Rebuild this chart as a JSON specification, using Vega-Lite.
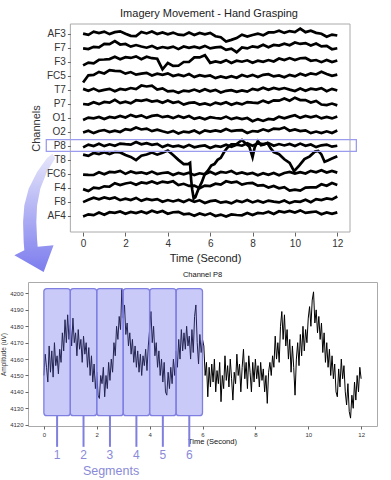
{
  "$schema": "https://vega.github.io/schema/vega-lite/v6.json",
  "background": "white",
  "padding": {"left": 0, "top": 8, "right": 2, "bottom": 2},
  "spacing": -2,
  "config": {"font": "Liberation Sans", "view": {"stroke": null}, "axis": {"labelOverlap": false, "labelFlush": false, "tickCount": 30}},
  "vconcat": [
    {
      "width": 322,
      "height": 208,
      "title": {"text": "Imagery Movement - Hand Grasping", "fontSize": 11, "fontWeight": "normal", "color": "#222", "dx": 20, "offset": 4},
      "layer": [
        {
          "data": {"values": [{}]},
          "mark": {"type": "rect", "filled": false, "stroke": "#aaaaaa", "strokeWidth": 1},
          "encoding": {
            "x": {"datum": -0.6, "type": "quantitative", "scale": {"domain": [-2.6, 12.6], "nice": false, "zero": false},
              "axis": {"values": [0, 2, 4, 6, 8, 10, 12], "format": "d", "tickCount": 30, "title": "Time (Second)", "domain": false, "grid": false, "tickSize": 4, "tickColor": "#666", "labelFontSize": 10, "labelColor": "#333", "labelPadding": 2, "labelFlush": false, "labelOverlap": false, "titleFontSize": 11, "titleFontWeight": "normal", "titleColor": "#222", "titlePadding": 4, "titleX": 177}},
            "x2": {"datum": 12.6},
            "y": {"datum": -0.143, "type": "quantitative", "scale": {"domain": [-0.143, 14.714], "nice": false, "zero": false},
              "axis": {"values": [1, 2, 3, 4, 5, 6, 7, 8, 9, 10, 11, 12, 13, 14], "zindex": 1, "tickCount": 30, "labelExpr": "['','AF4','F8','F4','FC6','T8','P8','O2','O1','P7','T7','FC5','F3','F7','AF3'][datum.value]", "labelOverlap": false, "labelBound": false, "labelFlush": false, "title": "Channels", "offset": -42.4, "domain": false, "grid": false, "tickSize": 3, "tickColor": "#666", "labelFontSize": 10, "labelColor": "#333", "labelPadding": 2, "titleFontSize": 11, "titleFontWeight": "normal", "titleColor": "#333", "titlePadding": 5}},
            "y2": {"datum": 14.714}
          }
        },
        {
          "data": {"values": [
            {"ch": "AF3", "t": [0,0.25,0.5,0.75,1,1.25,1.5,1.75,2,2.25,2.5,2.75,3,3.25,3.5,3.75,4,4.25,4.5,4.75,5,5.25,5.5,5.75,6,6.25,6.5,6.75,7,7.25,7.5,7.75,8,8.25,8.5,8.75,9,9.25,9.5,9.75,10,10.25,10.5,10.75,11,11.25,11.5,11.75,12], "v": [14.03,13.94,14.17,14.06,14.17,13.99,14.13,14.19,14.02,13.87,13.85,14.15,14.04,14.18,14.00,14.11,13.98,14.10,13.95,13.92,14.10,13.93,14.07,13.98,14.08,13.84,13.77,13.46,13.58,13.71,13.95,13.82,13.93,14.03,13.90,14.11,14.11,14.24,14.08,14.21,14.14,14.39,14.13,14.23,14.08,14.02,13.81,13.96,13.89]},
            {"ch": "F7", "t": [0,0.25,0.5,0.75,1,1.25,1.5,1.75,2,2.25,2.5,2.75,3,3.25,3.5,3.75,4,4.25,4.5,4.75,5,5.25,5.5,5.75,6,6.25,6.5,6.75,7,7.25,7.5,7.75,8,8.25,8.5,8.75,9,9.25,9.5,9.75,10,10.25,10.5,10.75,11,11.25,11.5,11.75,12], "v": [12.97,12.92,13.08,13.05,13.30,13.27,13.49,13.25,13.29,13.10,13.21,13.11,13.02,13.15,12.96,13.07,12.99,13.10,12.92,13.11,13.01,13.09,13.00,13.15,12.97,13.04,13.08,12.87,12.95,12.70,13.04,12.97,13.12,13.05,13.23,13.05,13.22,13.17,13.31,13.20,13.39,13.29,13.35,13.18,13.32,13.11,13.15,12.91,12.98]},
            {"ch": "F3", "t": [0,0.25,0.5,0.75,1,1.25,1.5,1.75,2,2.25,2.5,2.75,3,3.25,3.5,3.75,4,4.25,4.5,4.75,5,5.25,5.5,5.75,6,6.25,6.5,6.75,7,7.25,7.5,7.75,8,8.25,8.5,8.75,9,9.25,9.5,9.75,10,10.25,10.5,10.75,11,11.25,11.5,11.75,12], "v": [11.76,11.96,11.91,12.16,12.18,12.21,12.37,12.20,12.34,12.29,12.40,12.20,12.38,12.27,12.23,11.48,11.93,11.72,11.73,12.00,12.00,12.33,12.33,12.49,11.94,12.04,11.96,12.13,11.93,12.09,12.02,12.12,11.95,12.09,12.01,12.14,12.04,12.25,12.14,12.28,12.14,12.27,12.29,12.09,12.14,11.99,12.14,12.00,12.11]},
            {"ch": "FC5", "t": [0,0.25,0.5,0.75,1,1.25,1.5,1.75,2,2.25,2.5,2.75,3,3.25,3.5,3.75,4,4.25,4.5,4.75,5,5.25,5.5,5.75,6,6.25,6.5,6.75,7,7.25,7.5,7.75,8,8.25,8.5,8.75,9,9.25,9.5,9.75,10,10.25,10.5,10.75,11,11.25,11.5,11.75,12], "v": [10.54,11.05,11.08,11.29,11.18,11.42,11.36,11.35,11.17,11.28,11.10,11.17,11.22,11.03,11.17,11.08,11.19,11.00,11.10,10.99,11.14,10.92,11.06,10.97,11.04,10.85,10.97,10.87,10.98,10.87,11.07,10.95,11.08,10.92,11.08,11.13,10.97,11.04,10.91,11.08,10.97,11.16,11.03,11.19,11.11,11.30,11.15,11.01,11.10]},
            {"ch": "T7", "t": [0,0.25,0.5,0.75,1,1.25,1.5,1.75,2,2.25,2.5,2.75,3,3.25,3.5,3.75,4,4.25,4.5,4.75,5,5.25,5.5,5.75,6,6.25,6.5,6.75,7,7.25,7.5,7.75,8,8.25,8.5,8.75,9,9.25,9.5,9.75,10,10.25,10.5,10.75,11,11.25,11.5,11.75,12], "v": [10.08,9.95,10.10,9.92,10.01,10.08,9.91,10.07,10.01,10.14,10.07,10.32,10.25,10.31,10.03,10.12,9.90,9.94,9.80,9.96,9.90,10.03,9.89,10.06,9.91,10.01,9.82,9.94,9.99,9.87,9.97,9.88,10.08,10.00,10.16,10.01,10.15,10.05,10.14,10.03,9.93,10.10,9.94,10.09,10.03,10.13,9.91,10.08,9.96]},
            {"ch": "P7", "t": [0,0.25,0.5,0.75,1,1.25,1.5,1.75,2,2.25,2.5,2.75,3,3.25,3.5,3.75,4,4.25,4.5,4.75,5,5.25,5.5,5.75,6,6.25,6.5,6.75,7,7.25,7.5,7.75,8,8.25,8.5,8.75,9,9.25,9.5,9.75,10,10.25,10.5,10.75,11,11.25,11.5,11.75,12], "v": [9.00,8.96,9.12,8.99,9.15,9.10,9.30,9.06,9.17,9.05,9.27,9.23,9.31,9.17,9.24,9.09,9.25,9.09,9.17,8.96,9.08,9.12,8.96,9.04,8.92,9.10,8.99,9.13,8.95,9.08,8.97,9.14,9.10,9.07,9.24,9.09,9.26,9.24,9.39,9.23,9.45,9.28,9.28,9.11,9.22,8.96,8.92,9.03,8.90]},
            {"ch": "O1", "t": [0,0.25,0.5,0.75,1,1.25,1.5,1.75,2,2.25,2.5,2.75,3,3.25,3.5,3.75,4,4.25,4.5,4.75,5,5.25,5.5,5.75,6,6.25,6.5,6.75,7,7.25,7.5,7.75,8,8.25,8.5,8.75,9,9.25,9.5,9.75,10,10.25,10.5,10.75,11,11.25,11.5,11.75,12], "v": [7.86,8.03,7.97,8.08,7.93,8.08,8.01,8.14,8.03,8.22,8.08,8.19,8.01,8.15,8.21,8.06,8.13,7.99,8.15,8.02,8.14,7.94,8.04,7.91,8.06,8.00,7.95,8.10,7.92,8.02,7.92,8.00,7.77,7.92,7.79,7.93,7.89,8.10,7.98,8.10,8.20,8.01,8.15,8.05,8.15,7.97,8.07,7.97,8.11]},
            {"ch": "O2", "t": [0,0.25,0.5,0.75,1,1.25,1.5,1.75,2,2.25,2.5,2.75,3,3.25,3.5,3.75,4,4.25,4.5,4.75,5,5.25,5.5,5.75,6,6.25,6.5,6.75,7,7.25,7.5,7.75,8,8.25,8.5,8.75,9,9.25,9.5,9.75,10,10.25,10.5,10.75,11,11.25,11.5,11.75,12], "v": [6.96,7.09,6.92,7.07,7.14,7.00,7.10,7.00,7.21,7.14,7.32,7.18,7.24,7.06,7.16,7.05,6.95,7.08,6.89,7.03,6.98,7.11,6.92,7.12,7.03,7.12,7.03,7.21,7.06,7.12,7.14,6.93,7.07,7.03,7.19,7.07,7.24,7.20,7.33,7.09,7.18,7.06,7.12,6.92,7.03,6.92,7.05,6.93,7.10]},
            {"ch": "P8", "t": [0,0.25,0.5,0.75,1,1.25,1.5,1.75,2,2.25,2.5,2.75,3,3.25,3.5,3.75,4,4.25,4.5,4.75,5,5.25,5.5,5.75,6,6.25,6.5,6.75,7,7.25,7.5,7.75,8,8.25,8.5,8.75,9,9.25,9.5,9.75,10,10.25,10.5,10.75,11,11.25,11.5,11.75,12], "v": [5.90,6.10,6.00,6.16,5.99,6.12,6.01,6.17,6.13,6.10,6.28,6.12,6.20,6.08,6.15,5.92,6.07,5.95,6.02,5.91,6.08,5.91,5.99,6.04,5.86,6.00,5.94,6.09,5.95,6.09,6.02,6.20,6.02,6.19,6.13,6.21,6.02,6.14,6.04,6.14,6.00,6.17,6.01,6.11,5.92,6.05,6.10,5.95,6.02]},
            {"ch": "T8", "t": [0,0.25,0.5,0.75,1,1.25,1.5,1.75,2,2.25,2.5,2.75,3,3.25,3.5,3.75,4,4.25,4.5,4.75,4.95,5.05,5.1,5.15,5.22,5.3,5.45,5.6,5.75,5.9,6.05,6.2,6.35,6.5,6.65,6.8,7,7.25,7.5,7.7,7.85,8,8.1,8.25,8.4,8.55,8.7,8.85,9,9.25,9.5,9.75,9.96,10.2,10.45,10.7,10.95,11.1,11.25,11.4,11.55,11.75,12], "v": [5.38,5.29,5.50,5.42,5.56,5.43,5.57,5.54,5.36,5.22,4.99,5.31,5.39,5.53,5.38,5.51,5.68,5.35,5.01,4.71,4.70,4.80,3.6,2.9,2.25,2.35,2.95,3.40,4.01,4.25,4.60,4.71,5.01,5.15,5.55,5.86,6.12,6.14,6.43,6.15,5.94,5.2,5.9,6.35,6.05,6.11,6.21,5.85,5.57,5.41,5.05,4.79,4.2,4.60,5.06,5.26,5.60,5.65,5.40,4.88,4.97,5.10,5.27]},
            {"ch": "FC6", "t": [0,0.25,0.5,0.75,1,1.25,1.5,1.75,2,2.25,2.5,2.75,3,3.25,3.5,3.75,4,4.25,4.5,4.75,5,5.25,5.5,5.75,6,6.25,6.5,6.75,7,7.25,7.5,7.75,8,8.25,8.5,8.75,9,9.25,9.5,9.75,10,10.25,10.5,10.75,11,11.25,11.5,11.75,12], "v": [3.96,3.94,3.93,4.12,3.98,4.15,4.12,4.22,4.01,4.18,4.06,4.12,4.01,4.17,4.00,4.07,4.12,3.93,4.07,3.98,4.09,3.92,4.05,3.98,4.16,3.98,4.15,4.09,4.21,4.01,4.11,3.99,4.07,3.91,4.06,3.94,4.07,3.91,4.07,4.15,4.03,4.13,4.03,4.22,4.12,4.27,4.10,4.22,4.10]},
            {"ch": "F4", "t": [0,0.25,0.5,0.75,1,1.25,1.5,1.75,2,2.25,2.5,2.75,3,3.25,3.5,3.75,4,4.25,4.5,4.75,5,5.25,5.5,5.75,6,6.25,6.5,6.75,7,7.25,7.5,7.75,8,8.25,8.5,8.75,9,9.25,9.5,9.75,10,10.25,10.5,10.75,11,11.25,11.5,11.75,12], "v": [2.92,2.78,3.02,2.97,3.12,3.09,3.34,3.21,3.32,3.39,3.23,3.40,3.33,3.47,3.32,3.46,3.38,3.48,3.21,3.30,3.15,3.17,2.98,3.17,3.14,3.31,3.24,3.48,3.39,3.46,3.24,3.34,3.36,3.17,3.21,3.03,3.15,2.98,3.06,2.82,2.88,2.81,3.03,3.04,3.05,3.27,3.16,3.36,3.22]},
            {"ch": "F8", "t": [0,0.25,0.5,0.75,1,1.25,1.5,1.75,2,2.25,2.5,2.75,3,3.25,3.5,3.75,4,4.25,4.5,4.75,5,5.25,5.5,5.75,6,6.25,6.5,6.75,7,7.25,7.5,7.75,8,8.25,8.5,8.75,9,9.25,9.5,9.75,10,10.25,10.5,10.75,11,11.25,11.5,11.75,12], "v": [1.99,2.16,2.31,2.19,2.32,2.22,2.32,2.13,2.24,2.14,2.29,2.08,2.22,2.13,2.21,2.02,2.14,2.04,2.14,2.00,2.17,2.02,2.12,1.93,2.06,2.11,1.95,2.02,1.90,2.09,1.99,2.14,1.97,2.09,1.96,2.10,2.03,1.97,2.11,1.92,2.05,2.01,2.16,1.99,2.21,2.14,2.25,2.19,2.39]},
            {"ch": "AF4", "t": [0,0.25,0.5,0.75,1,1.25,1.5,1.75,2,2.25,2.5,2.75,3,3.25,3.5,3.75,4,4.25,4.5,4.75,5,5.25,5.5,5.75,6,6.25,6.5,6.75,7,7.25,7.5,7.75,8,8.25,8.5,8.75,9,9.25,9.5,9.75,10,10.25,10.5,10.75,11,11.25,11.5,11.75,12], "v": [0.97,1.12,1.06,1.25,1.09,1.27,1.22,1.32,1.16,1.29,1.21,1.32,1.20,1.38,1.25,1.36,1.16,1.27,1.30,1.12,1.17,1.02,1.18,1.06,1.19,1.00,1.10,0.96,1.11,1.07,1.05,1.22,1.07,1.22,1.18,1.31,1.14,1.34,1.26,1.36,1.25,1.40,1.22,1.28,1.32,1.12,1.25,1.15,1.26]}
          ]},
          "transform": [{"flatten": ["t", "v"]}],
          "mark": {"type": "line", "color": "black", "strokeWidth": 2.7},
          "encoding": {
            "x": {"field": "t", "type": "quantitative", "scale": {"domain": [-2.6, 12.6], "nice": false, "zero": false}},
            "y": {"field": "v", "type": "quantitative", "scale": {"domain": [-0.143, 14.714], "nice": false, "zero": false}},
            "detail": {"field": "ch"}
          }
        },
        {
          "data": {"values": [{}]},
          "mark": {"type": "rect", "filled": false, "stroke": "#9c9cee", "strokeWidth": 1.3},
          "encoding": {
            "x": {"datum": -1.736, "type": "quantitative", "scale": {"domain": [-2.6, 12.6], "nice": false, "zero": false}},
            "x2": {"datum": 12.9},
            "y": {"datum": 5.62, "type": "quantitative", "scale": {"domain": [-0.143, 14.714], "nice": false, "zero": false}},
            "y2": {"datum": 6.45}
          }
        },
        {
          "data": {"values": [{}]},
          "mark": {"type": "point", "shape": "M0.30,-0.97 L0.35,-0.90 L0.21,-0.67 L0.10,-0.39 L0.045,-0.11 L0.033,0.17 L0.045,0.45 L0.055,0.58 L0.32,0.555 L0.155,1 L-0.333,0.722 L-0.167,0.638 L-0.178,0.5 L-0.188,0.167 L-0.167,-0.112 L-0.095,-0.388 L0.045,-0.667 L0.212,-0.9 Z", "size": 14400, "filled": true, "opacity": 1, "strokeWidth": 0,
            "fill": {"gradient": "linear", "x1": 0, "y1": 0, "x2": 0, "y2": 1, "stops": [{"offset": 0, "color": "#e6e6fb"}, {"offset": 1, "color": "#7c7cee"}]}},
          "encoding": {
            "x": {"datum": -2.3, "type": "quantitative", "scale": {"domain": [-2.6, 12.6], "nice": false, "zero": false}},
            "y": {"datum": 1.286, "type": "quantitative", "scale": {"domain": [-0.143, 14.714], "nice": false, "zero": false}}
          }
        }
      ]
    },
    {
      "width": 349,
      "height": 144,
      "view": {"stroke": "#aaaaaa"},
      "title": {"text": "Channel P8", "fontSize": 7.5, "fontWeight": "normal", "color": "#111", "offset": 4},
      "layer": [
        {
          "data": {"values": [{"t": [0,0.05,0.1,0.15,0.2,0.25,0.3,0.35,0.4,0.45,0.5,0.55,0.6,0.65,0.7,0.75,0.8,0.85,0.9,0.95,1,1.05,1.1,1.15,1.2,1.25,1.3,1.35,1.4,1.45,1.5,1.55,1.6,1.65,1.7,1.75,1.8,1.85,1.9,1.95,2,2.05,2.1,2.15,2.2,2.25,2.3,2.35,2.4,2.45,2.5,2.55,2.6,2.65,2.7,2.75,2.8,2.85,2.9,2.95,3,3.05,3.1,3.15,3.2,3.25,3.3,3.35,3.4,3.45,3.5,3.55,3.6,3.65,3.7,3.75,3.8,3.85,3.9,3.95,4,4.05,4.1,4.15,4.2,4.25,4.3,4.35,4.4,4.45,4.5,4.55,4.6,4.65,4.7,4.75,4.8,4.85,4.9,4.95,5,5.05,5.1,5.15,5.2,5.25,5.3,5.35,5.4,5.45,5.5,5.55,5.6,5.65,5.7,5.75,5.8,5.85,5.9,5.95,6,6.05,6.1,6.15,6.2,6.25,6.3,6.35,6.4,6.45,6.5,6.55,6.6,6.65,6.7,6.75,6.8,6.85,6.9,6.95,7,7.05,7.1,7.15,7.2,7.25,7.3,7.35,7.4,7.45,7.5,7.55,7.6,7.65,7.7,7.75,7.8,7.85,7.9,7.95,8,8.05,8.1,8.15,8.2,8.25,8.3,8.35,8.4,8.45,8.5,8.55,8.6,8.65,8.7,8.75,8.8,8.85,8.9,8.95,9,9.05,9.1,9.15,9.2,9.25,9.3,9.35,9.4,9.45,9.5,9.55,9.6,9.65,9.7,9.75,9.8,9.85,9.9,9.95,10,10.05,10.1,10.15,10.2,10.25,10.3,10.35,10.4,10.45,10.5,10.55,10.6,10.65,10.7,10.75,10.8,10.85,10.9,10.95,11,11.05,11.1,11.15,11.2,11.25,11.3,11.35,11.4,11.45,11.5,11.55,11.6,11.65,11.7,11.75,11.8,11.85,11.9,11.95,12],
            "v": [4150,4163,4155,4146,4168,4152,4165,4149,4170,4156,4162,4151,4166,4158,4176,4165,4184,4170,4187,4172,4181,4168,4185,4170,4176,4162,4178,4166,4172,4158,4174,4163,4170,4155,4167,4150,4162,4146,4157,4142,4152,4138,4136,4150,4145,4155,4137,4150,4142,4158,4147,4160,4152,4170,4162,4180,4172,4186,4178,4203,4185,4193,4175,4182,4168,4176,4163,4172,4158,4168,4155,4165,4152,4163,4150,4162,4156,4166,4153,4168,4178,4189,4170,4180,4162,4170,4155,4165,4150,4160,4146,4158,4140,4138,4152,4142,4155,4145,4160,4150,4165,4155,4172,4160,4178,4165,4176,4166,4180,4168,4174,4160,4178,4164,4186,4193,4170,4157,4175,4164,4172,4168,4150,4158,4137,4155,4143,4157,4146,4160,4140,4153,4145,4158,4134,4150,4142,4162,4147,4156,4143,4160,4148,4135,4152,4145,4163,4150,4157,4140,4155,4166,4148,4158,4142,4162,4152,4140,4158,4146,4160,4148,4156,4143,4158,4147,4154,4140,4150,4133,4152,4158,4150,4162,4155,4174,4160,4170,4158,4180,4189,4172,4187,4168,4178,4160,4172,4152,4168,4155,4138,4160,4170,4156,4175,4162,4180,4165,4178,4170,4185,4192,4180,4196,4201,4182,4190,4176,4186,4172,4182,4164,4176,4158,4170,4155,4166,4150,4162,4148,4157,4140,4137,4154,4143,4160,4148,4156,4140,4132,4145,4128,4124,4138,4130,4146,4135,4150,4140,4155,4148]}]},
          "transform": [{"flatten": ["t", "v"]}],
          "mark": {"type": "line", "color": "black", "strokeWidth": 1},
          "encoding": {
            "x": {"field": "t", "type": "quantitative", "scale": {"domain": [-0.6, 12.6], "nice": false, "zero": false},
              "axis": {"values": [0, 2, 4, 6, 8, 10, 12], "format": "d", "tickCount": 30, "title": "Time (Second)", "domain": false, "grid": false, "tickSize": 3, "tickColor": "#666", "labelFontSize": 6, "labelColor": "#333", "labelPadding": 2, "labelFlush": false, "labelOverlap": false, "titleFontSize": 7.5, "titleFontWeight": "normal", "titleColor": "#111", "titlePadding": 0, "titleX": 184}},
            "y": {"field": "v", "type": "quantitative", "scale": {"domain": [4119.2, 4207], "nice": false, "zero": false},
              "axis": {"values": [4120, 4130, 4140, 4150, 4160, 4170, 4180, 4190, 4200], "tickCount": 30, "format": "d", "labelOverlap": false, "labelFlush": false, "title": "Amplitude (uV)", "domain": false, "grid": false, "tickSize": 3, "tickColor": "#666", "labelFontSize": 6, "labelColor": "#333", "labelPadding": 2, "titleFontSize": 6.5, "titleFontWeight": "normal", "titleColor": "#333", "titlePadding": 3}}
          }
        },
        {
          "data": {"values": [
            {"s": "1", "t0": 0, "t1": 1, "tm": 0.5},
            {"s": "2", "t0": 1, "t1": 2, "tm": 1.5},
            {"s": "3", "t0": 2, "t1": 3, "tm": 2.5},
            {"s": "4", "t0": 3, "t1": 4, "tm": 3.5},
            {"s": "5", "t0": 4, "t1": 5, "tm": 4.5},
            {"s": "6", "t0": 5, "t1": 6, "tm": 5.5}
          ]},
          "layer": [
            {
              "mark": {"type": "rect", "fill": "#6666ee", "fillOpacity": 0.35, "stroke": "#7f7fe2", "strokeWidth": 1.3, "cornerRadius": 3},
              "encoding": {
                "x": {"field": "t0", "type": "quantitative", "scale": {"domain": [-0.6, 12.6], "nice": false, "zero": false}},
                "x2": {"field": "t1"},
                "y": {"datum": 4125.5, "type": "quantitative", "scale": {"domain": [4119.2, 4207], "nice": false, "zero": false}},
                "y2": {"datum": 4203}
              }
            },
            {
              "mark": {"type": "rule", "color": "#7f7fe0", "strokeWidth": 2},
              "encoding": {
                "x": {"field": "tm", "type": "quantitative", "scale": {"domain": [-0.6, 12.6], "nice": false, "zero": false}},
                "y": {"datum": 4125.5, "type": "quantitative", "scale": {"domain": [4119.2, 4207], "nice": false, "zero": false}},
                "y2": {"datum": 4106.5}
              }
            },
            {
              "mark": {"type": "text", "color": "#8a8ad8", "fontSize": 12, "baseline": "middle", "align": "center"},
              "encoding": {
                "x": {"field": "tm", "type": "quantitative", "scale": {"domain": [-0.6, 12.6], "nice": false, "zero": false}},
                "y": {"datum": 4101.5, "type": "quantitative", "scale": {"domain": [4119.2, 4207], "nice": false, "zero": false}},
                "text": {"field": "s"}
              }
            }
          ]
        },
        {
          "data": {"values": [{}]},
          "mark": {"type": "text", "text": "Segments", "color": "#8a8ad8", "fontSize": 12.5, "baseline": "middle", "align": "center"},
          "encoding": {
            "x": {"datum": 2.54, "type": "quantitative", "scale": {"domain": [-0.6, 12.6], "nice": false, "zero": false}},
            "y": {"datum": 4091.5, "type": "quantitative", "scale": {"domain": [4119.2, 4207], "nice": false, "zero": false}}
          }
        }
      ]
    }
  ]
}
